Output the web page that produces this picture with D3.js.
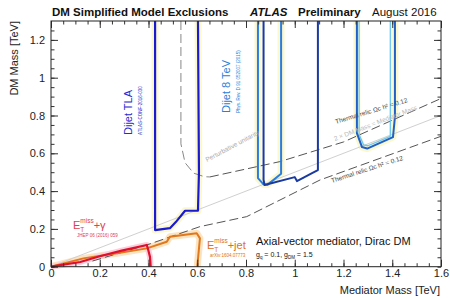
<!DOCTYPE html>
<html>
<head>
<meta charset="utf-8">
<script src="https://cdn.jsdelivr.net/npm/d3@7"></script>
<style>
  body { margin: 0; background: #fff; }
  text { font-family: "Liberation Sans", Arial, sans-serif; }
</style>
</head>
<body>
<script>
// exclusion contours, [mediator mass, DM mass] in TeV
var dijetTLA = [[0.427, 1.3], [0.427, 0.194], [0.488, 0.204], [0.512, 0.236], [0.550, 0.296],
  [0.603, 0.296], [0.607, 0.50], [0.603, 1.3]];
var dijet8TeV = [[0.849, 1.3], [0.849, 0.469], [0.872, 0.436], [0.888, 0.433], [0.944, 0.492], [0.944, 1.3]];
var dijet13a = [[0.872, 1.3], [0.872, 0.46], [0.876, 0.432], [1.0, 0.474], [1.009, 0.453],
  [1.071, 0.495], [1.095, 0.511], [1.095, 1.3]];
var dijet13b = [[1.255, 1.3], [1.255, 0.707], [1.276, 0.633], [1.297, 0.625], [1.403, 0.686],
  [1.411, 0.792], [1.411, 1.3]];
var dijet13bExp = [[1.264, 1.3], [1.264, 0.70], [1.282, 0.645], [1.30, 0.64], [1.392, 0.69], [1.392, 1.3]];
var monoPhoton = [[0, 0], [0.12, 0.025], [0.2, 0.055], [0.29, 0.085], [0.393, 0.115],
  [0.399, 0.088], [0.406, 0.053], [0.409, 0]];
var monoJet = [[0, 0], [0.133, 0.044], [0.27, 0.071], [0.393, 0.097], [0.475, 0.132],
  [0.488, 0.159], [0.542, 0.168], [0.598, 0.177], [0.611, 0.150], [0.600, 0]];
// reference curves
var relicLower = [[0.17, 0.03], [0.393, 0.115], [0.611, 0.212], [0.803, 0.265], [1.104, 0.459], [1.6, 0.69]];
var relicUpper = [[0.652, 0.475], [0.939, 0.556], [1.2, 0.66], [1.6, 0.89]];
var unitarity = [[0.533, 1.3], [0.533, 0.65], [0.55, 0.55], [0.585, 0.495], [0.63, 0.476], [0.652, 0.475]];
var halfLine = [[0, 0], [1.6, 0.8]];

var xTicks = [0, 0.2, 0.4, 0.6, 0.8, 1, 1.2, 1.4, 1.6];
var yTicks = [0.2, 0.4, 0.6, 0.8, 1, 1.2];

var width = 450, height = 298;
var svg = d3.select("body").append("svg")
  .attr("width", width)
  .attr("height", height);

var x = d3.scaleLinear().domain([0, 1.6]).range([51, 441]);
var y = d3.scaleLinear().domain([0, 1.3]).range([266.7, 21]);

var line = d3.line().x(d => x(d[0])).y(d => y(d[1]));

var g = svg.append("g");

// bands behind the lines
function band(data, color, w) {
  g.append("path").attr("d", line(data)).attr("fill", "none")
    .attr("stroke", color).attr("stroke-width", w).attr("stroke-linejoin", "round");
}
band(monoJet, "#fde3c0", 7);
band(monoPhoton, "#fbd0dc", 6);
band(dijetTLA, "#fbf8d0", 7);
band(dijet8TeV, "#fbf8d0", 7);
band(dijet13b, "#fbf8d0", 7);

function curve(data, color, w, dash) {
  g.append("path").attr("d", line(data)).attr("fill", "none")
    .attr("stroke", color).attr("stroke-width", w)
    .attr("stroke-dasharray", dash || null)
    .attr("stroke-linejoin", "round");
}
curve(halfLine, "#d0d0d0", 1);
curve(relicLower, "#555", 1, "9,4");
curve(relicUpper, "#555", 1, "9,4");
curve(unitarity, "#888", 1, "9,4");
curve(monoJet, "#e0781e", 2);
curve(monoPhoton, "#e0102c", 2.2);
curve(dijet13bExp, "#6cc8f0", 1.3);
curve(dijetTLA, "#1a1ad0", 2.2);
curve(dijet8TeV, "#2a7de0", 2);
curve(dijet13a, "#1a3aa0", 2);
curve(dijet13b, "#2060c8", 2);

// axes
var xAxis = svg.append("g").attr("transform", "translate(0,266.7)")
  .call(d3.axisBottom(x).tickValues(xTicks).tickFormat(d3.format("")).tickSizeInner(-7).tickSizeOuter(0).tickPadding(3));
var xMinor = svg.append("g").attr("transform", "translate(0,266.7)")
  .call(d3.axisBottom(x).tickValues(d3.range(0, 1.6, 0.05)).tickFormat("").tickSizeInner(-3.5).tickSizeOuter(0));
var xTop = svg.append("g").attr("transform", "translate(0,21)")
  .call(d3.axisTop(x).tickValues(xTicks).tickFormat("").tickSizeInner(-7).tickSizeOuter(0));
var xTopMinor = svg.append("g").attr("transform", "translate(0,21)")
  .call(d3.axisTop(x).tickValues(d3.range(0, 1.6, 0.05)).tickFormat("").tickSizeInner(-3.5).tickSizeOuter(0));
var yAxis = svg.append("g").attr("transform", "translate(51,0)")
  .call(d3.axisLeft(y).tickValues([0].concat(yTicks)).tickFormat(d3.format("")).tickSizeInner(-7).tickSizeOuter(0).tickPadding(6));
var yMinor = svg.append("g").attr("transform", "translate(51,0)")
  .call(d3.axisLeft(y).tickValues(d3.range(0, 1.3, 0.05)).tickFormat("").tickSizeInner(-3.5).tickSizeOuter(0));
var yRight = svg.append("g").attr("transform", "translate(441,0)")
  .call(d3.axisRight(y).tickValues(yTicks).tickFormat("").tickSizeInner(-7).tickSizeOuter(0));
var yRightMinor = svg.append("g").attr("transform", "translate(441,0)")
  .call(d3.axisRight(y).tickValues(d3.range(0, 1.3, 0.05)).tickFormat("").tickSizeInner(-3.5).tickSizeOuter(0));
svg.selectAll(".domain").remove();
svg.selectAll(".tick line").attr("stroke", "#333");
svg.selectAll(".tick text").attr("font-size", 11).attr("fill", "#222")
  .attr("font-family", "Liberation Sans, Arial, sans-serif");

svg.append("rect").attr("x", 51).attr("y", 21).attr("width", 390).attr("height", 245.7)
  .attr("fill", "none").attr("stroke", "#222").attr("stroke-width", 1);

// titles
var title = svg.append("text").attr("x", 52).attr("y", 16).attr("font-size", 11.5).attr("fill", "#111");
title.append("tspan").attr("font-weight", "bold").text("DM Simplified Model Exclusions");
title.append("tspan").attr("x", 250).attr("font-weight", "bold").attr("font-style", "italic").text("ATLAS");
title.append("tspan").attr("x", 298).attr("font-weight", "bold").text("Preliminary");
title.append("tspan").attr("x", 372).text("August 2016");

svg.append("text").attr("x", 440).attr("y", 294).attr("text-anchor", "end")
  .attr("font-size", 11).attr("fill", "#222").text("Mediator Mass [TeV]");
svg.append("text").attr("transform", "translate(18,21) rotate(-90)").attr("text-anchor", "end")
  .attr("font-size", 11).attr("fill", "#222").text("DM Mass [TeV]");

// labels
function rotText(px, py, angle, size, color, txt) {
  return svg.append("text").attr("transform", "translate(" + px + "," + py + ") rotate(" + angle + ")")
    .attr("font-size", size).attr("fill", color).text(txt);
}
rotText(132, 135, -90, 11, "#2a2ad0", "Dijet TLA");
rotText(142, 135, -90, 4.5, "#2a2ad0", "ATLAS-CONF-2016-030");
rotText(230, 113, -90, 11, "#2a80d8", "Dijet 8 TeV");
rotText(240, 113, -90, 4.5, "#2a80d8", "Phys. Rev. D 91 052007 (2015)");
rotText(207, 162, -28, 6.5, "#aaa", "Perturbative unitarity");
rotText(336, 124, -17, 6.5, "#444", "Thermal relic \u03a9c h\u00b2 = 0.12");
rotText(335, 141, -21, 6.5, "#bbb", "2 \u00d7 DM Mass = Mediator Mass");
rotText(332, 183, -18, 6.5, "#444", "Thermal relic \u03a9c h\u00b2 = 0.12");

var mp = svg.append("text").attr("x", 73).attr("y", 229).attr("font-size", 11).attr("fill", "#e04050");
mp.append("tspan").text("E");
mp.append("tspan").attr("font-size", 6.5).attr("dy", 3).text("T");
mp.append("tspan").attr("font-size", 6.5).attr("dx", -4).attr("dy", -9).text("miss");
mp.append("tspan").attr("dy", 6).text("+\u03b3");
svg.append("text").attr("x", 77).attr("y", 237).attr("font-size", 4.5).attr("fill", "#e04050").text("JHEP 06 (2016) 059");

var mj = svg.append("text").attr("x", 207).attr("y", 249).attr("font-size", 11).attr("fill", "#e07020");
mj.append("tspan").text("E");
mj.append("tspan").attr("font-size", 6.5).attr("dy", 3).text("T");
mj.append("tspan").attr("font-size", 6.5).attr("dx", -4).attr("dy", -9).text("miss");
mj.append("tspan").attr("dy", 6).text("+jet");
svg.append("text").attr("x", 210).attr("y", 257).attr("font-size", 4.5).attr("fill", "#e07020").text("arXiv:1604.07773");

svg.append("text").attr("x", 256).attr("y", 245).attr("font-size", 11).attr("fill", "#111")
  .text("Axial-vector mediator, Dirac DM");
var gq = svg.append("text").attr("x", 256).attr("y", 257).attr("font-size", 7).attr("fill", "#111");
gq.append("tspan").text("g");
gq.append("tspan").attr("font-size", 4.5).attr("dy", 2).text("q");
gq.append("tspan").attr("dy", -2).text(" = 0.1, g");
gq.append("tspan").attr("font-size", 4.5).attr("dy", 2).text("DM");
gq.append("tspan").attr("dy", -2).text(" = 1.5");
</script>
</body>
</html>
